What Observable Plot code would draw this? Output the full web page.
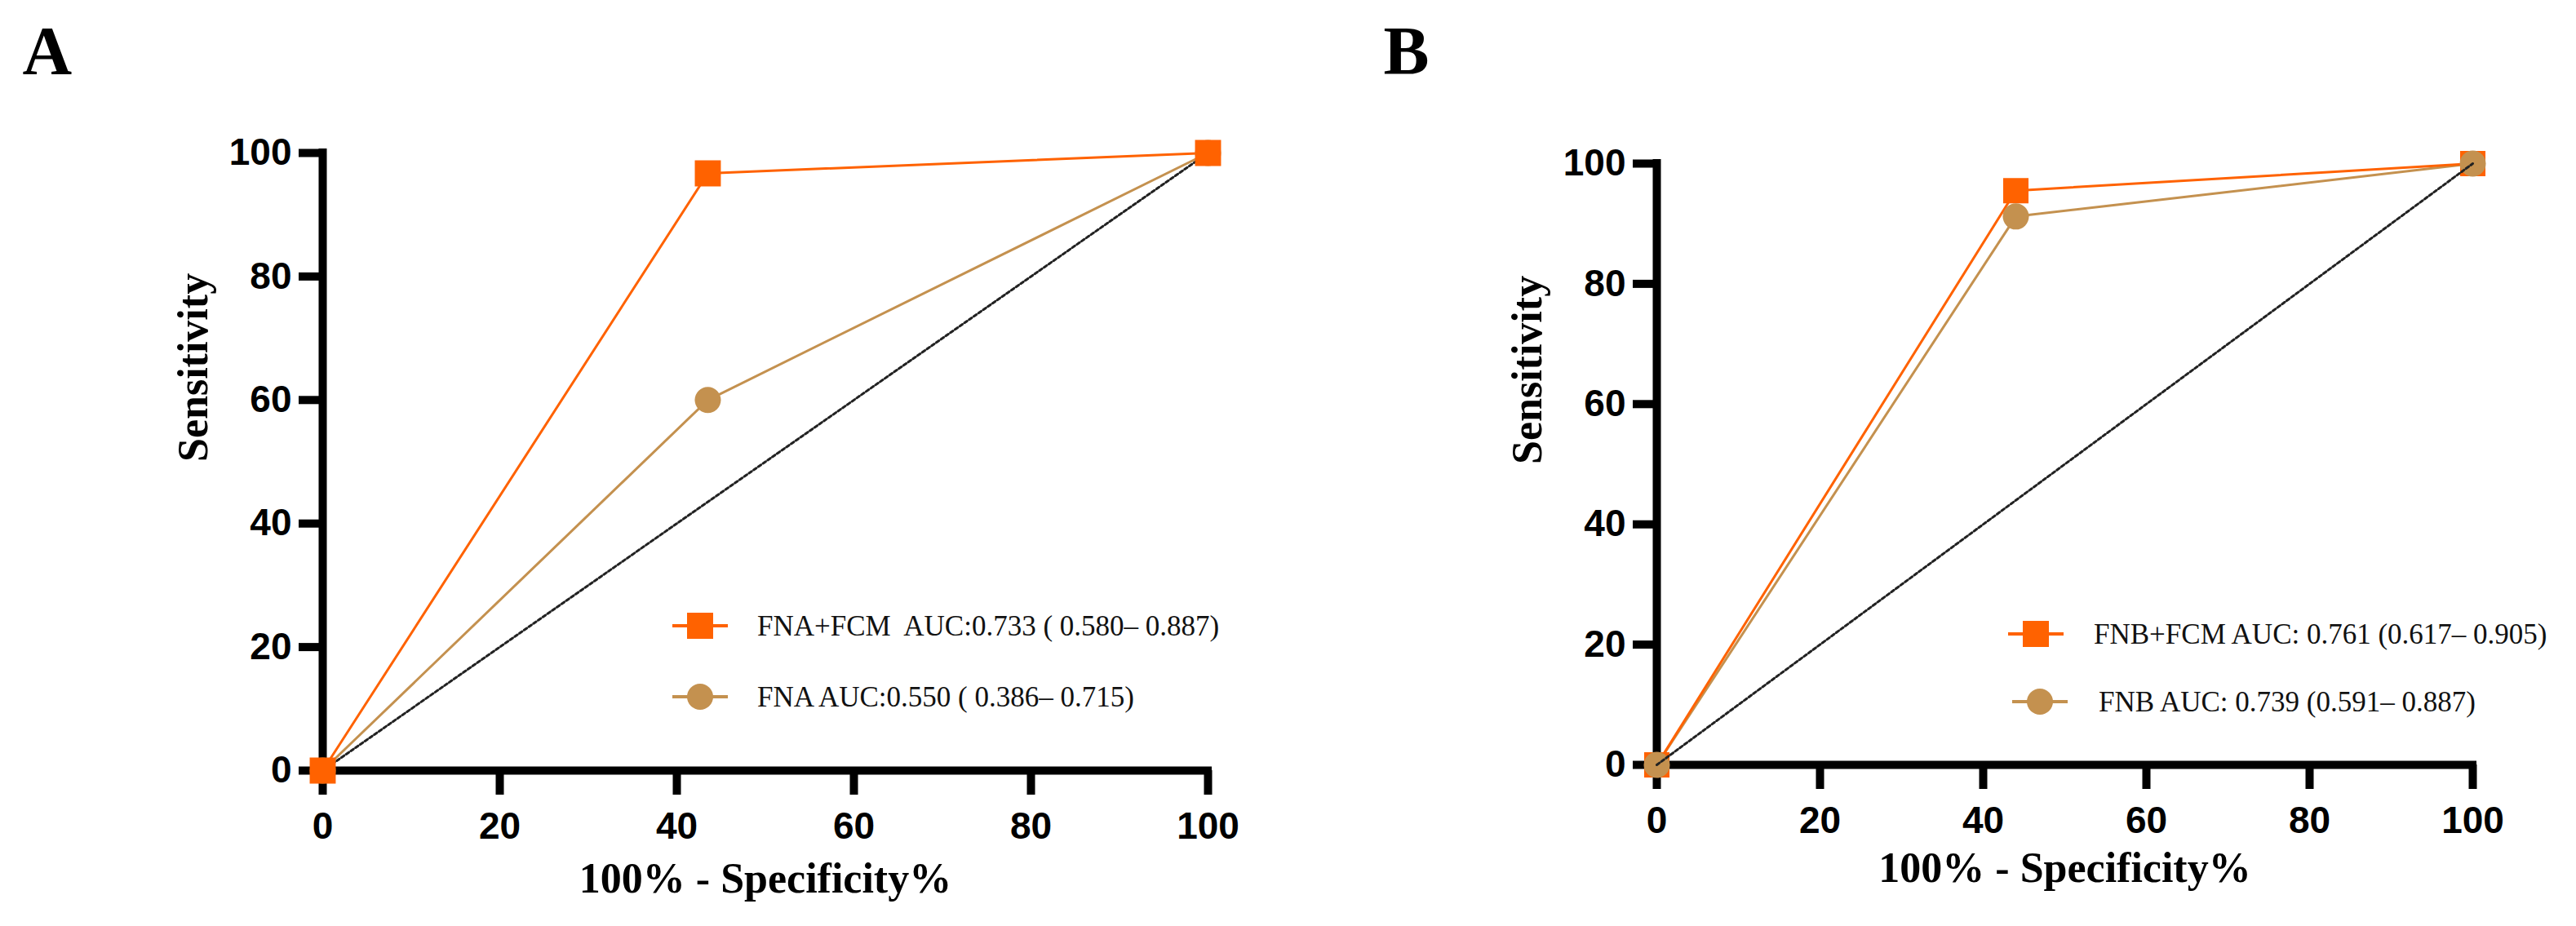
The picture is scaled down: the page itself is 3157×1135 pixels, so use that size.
<!DOCTYPE html>
<html>
<head>
<meta charset="utf-8">
<script src="https://cdn.jsdelivr.net/npm/d3@7"></script>
<script src="https://cdn.jsdelivr.net/npm/@observablehq/plot@0.6"></script>
<style>
  html, body { margin: 0; padding: 0; background: #fff; }
  #page { position: relative; width: 3157px; height: 1135px; overflow: hidden; background: #fff; }
  #page > svg, #page > figure { position: absolute; top: 0; margin: 0; }
</style>
</head>
<body>
<div id="page"></div>
<script>
// ---------- data ----------
const ticks = [0, 20, 40, 60, 80, 100];
const chanceLine = [0, 100];

// Panel A
const specA = [0, 43.5, 100];            // 100% - Specificity%
const sensFnaFcm = [0, 96.7, 100];       // FNA+FCM
const sensFna = [0, 60, 100];            // FNA
const legendA = ["FNA+FCM  AUC:0.733 ( 0.580\u2013 0.887)", "FNA AUC:0.550 ( 0.386\u2013 0.715)"];

// Panel B
const specB = [0, 44, 100];
const sensFnbFcm = [0, 95.5, 100];       // FNB+FCM
const sensFnb = [0, 91.2, 100];          // FNB
const legendB = ["FNB+FCM AUC: 0.761 (0.617\u2013 0.905)", "FNB AUC: 0.739 (0.591\u2013 0.887)"];

const xTitle = "100% - Specificity%";
const yTitle = "Sensitivity";

// ---------- style ----------
const ORANGE = "#ff6200";
const TAN = "#c4914f";
const SANS = "Liberation Sans, Arial, sans-serif";
const SERIF = "Liberation Serif, Times New Roman, serif";

function panel(cfg) {
  const rows = d3.range(cfg.spec.length);
  const lineFor = (sens, color) => Plot.line(rows, {x: i => cfg.spec[i], y: i => sens[i], stroke: color, strokeWidth: 3});
  const dotFor = (sens, color, symbol, r) => Plot.dot(rows, {x: i => cfg.spec[i], y: i => sens[i], symbol, r, fill: color, stroke: "none"});
  const chance = Plot.line(chanceLine, {x: d => d, y: d => d, stroke: "#222", strokeWidth: 3, strokeDasharray: "4,3"});

  const dataMarks = cfg.order === "A"
    ? [chance, lineFor(cfg.sens2, TAN), lineFor(cfg.sens1, ORANGE), dotFor(cfg.sens2, TAN, "circle", 16), dotFor(cfg.sens1, ORANGE, "square", 18)]
    : [lineFor(cfg.sens2, TAN), lineFor(cfg.sens1, ORANGE), dotFor(cfg.sens1, ORANGE, "square", 17.5), dotFor(cfg.sens2, TAN, "circle", 16), chance];

  return Plot.plot({
    width: cfg.width, height: 1135,
    marginLeft: cfg.ml, marginRight: cfg.mr, marginTop: cfg.mt, marginBottom: cfg.mb,
    style: {background: "transparent", overflow: "visible"},
    x: {domain: [0, 100]},
    y: {domain: [0, 100]},
    marks: [
      Plot.ruleX([0], {stroke: "black", strokeWidth: 10, strokeLinecap: "square"}),
      Plot.ruleY([0], {stroke: "black", strokeWidth: 10, strokeLinecap: "square"}),
      Plot.axisX({ticks, tickSize: 30, tickPadding: 21, strokeWidth: 10, fontSize: 46, fontWeight: "bold", fontFamily: SANS, fill: "black", label: null, tickFormat: d => String(d)}),
      Plot.axisY({ticks, tickSize: 29, tickPadding: 9, strokeWidth: 10, fontSize: 46, fontWeight: "bold", fontFamily: SANS, fill: "black", label: null, tickFormat: d => String(d)}),
      ...dataMarks,
      Plot.text([xTitle], {frameAnchor: "bottom", dy: cfg.xTitleDy, fontFamily: SERIF, fontWeight: "bold", fontSize: 52, fill: "black"}),
      Plot.text([yTitle], {frameAnchor: "left", dx: -158, rotate: -90, fontFamily: SERIF, fontWeight: "bold", fontSize: 52, fill: "black"}),
      Plot.text([cfg.letter], {frameAnchor: "top-left", dx: cfg.letterDx, dy: 90 - cfg.mt, textAnchor: "start", lineAnchor: "bottom", fontFamily: SERIF, fontWeight: "bold", fontSize: 84, fill: "black"})
    ]
  });
}

const page = document.getElementById("page");

const plotA = panel({
  width: 1580, ml: 395, mr: 100, mt: 187, mb: 191,
  spec: specA, sens1: sensFnaFcm, sens2: sensFna, order: "A",
  xTitleDy: 149, letter: "A", letterDx: 27 - 395
});
plotA.style.left = "0px";
page.appendChild(plotA);

const plotB = panel({
  width: 1577, ml: 450, mr: 127, mt: 200, mb: 198,
  spec: specB, sens1: sensFnbFcm, sens2: sensFnb, order: "B",
  xTitleDy: 143, letter: "B", letterDx: (1695 - 1580) - 450
});
plotB.style.left = "1580px";
page.appendChild(plotB);

// ---------- legends (overlay) ----------
const legendSvg = d3.create("svg")
  .attr("width", 3157).attr("height", 1135)
  .style("position", "absolute").style("left", "0px").style("top", "0px")
  .style("pointer-events", "none");

function legend(items, cx, ys, textX) {
  const colors = [ORANGE, TAN];
  const symbols = ["square", "circle"];
  items.forEach((label, i) => {
    const y = ys[i], x = cx[i];
    const g = legendSvg.append("g");
    g.append("line").attr("x1", x - 34).attr("x2", x + 34).attr("y1", y).attr("y2", y)
      .attr("stroke", colors[i]).attr("stroke-width", 4);
    if (symbols[i] === "square") {
      g.append("rect").attr("x", x - 16).attr("y", y - 16).attr("width", 32).attr("height", 32).attr("fill", colors[i]);
    } else {
      g.append("circle").attr("cx", x).attr("cy", y).attr("r", 16).attr("fill", colors[i]);
    }
    g.append("text").attr("x", textX[i]).attr("y", y).attr("dy", "0.35em")
      .attr("font-family", SERIF).attr("font-size", 35).attr("fill", "#111")
      .style("white-space", "pre").text(label);
  });
}
legend(legendA, [858, 858], [767, 854], [928, 928]);
legend(legendB, [2495, 2500], [777, 860], [2566, 2572]);

page.appendChild(legendSvg.node());
</script>
</body>
</html>
